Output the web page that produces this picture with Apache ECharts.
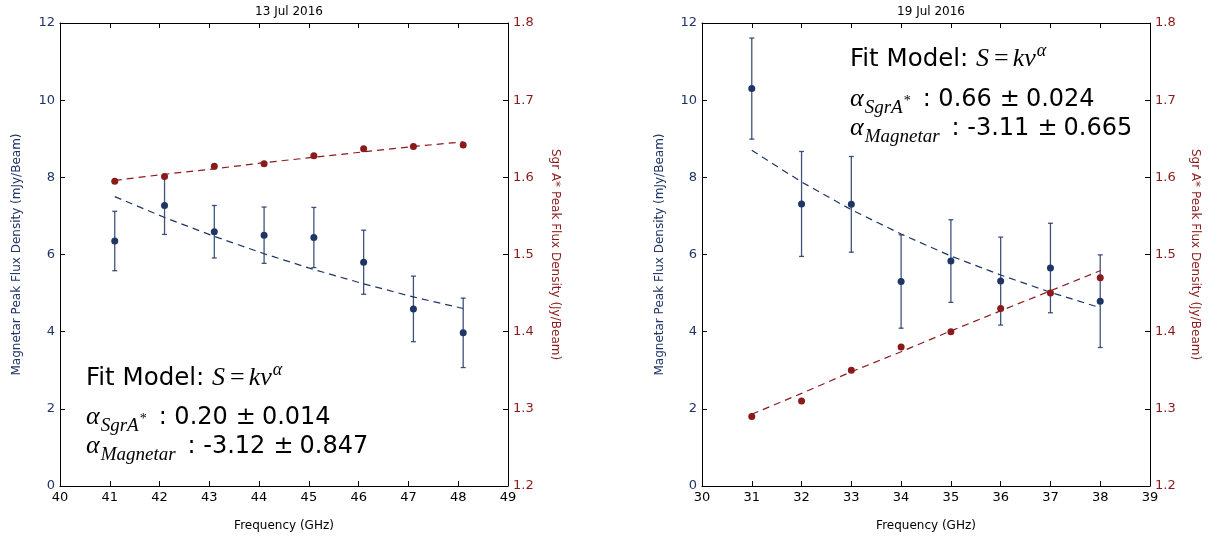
<!DOCTYPE html>
<html>
<head>
<meta charset="utf-8">
<script src="https://cdn.jsdelivr.net/npm/echarts@6/dist/echarts.min.js"></script>
<style>
  html, body { margin: 0; padding: 0; background: #fff; }
  #chart { width: 1217px; height: 545px; }
</style>
</head>
<body>
<div id="chart"></div>
<script>
// 13 Jul 2016
const freqL = [41.1, 42.1, 43.1, 44.1, 45.1, 46.1, 47.1, 48.1];
const magL = [6.35, 7.27, 6.59, 6.50, 6.44, 5.80, 4.59, 3.97];
const magErrL = [0.77, 0.75, 0.68, 0.73, 0.78, 0.83, 0.85, 0.90];
const magFitL = [7.50, 6.96, 6.47, 6.02, 5.61, 5.24, 4.90, 4.60];
const sgrL = [1.595, 1.601, 1.6145, 1.6175, 1.628, 1.637, 1.640, 1.642];
const sgrFitL = [1.596, 1.604, 1.611, 1.619, 1.626, 1.633, 1.640, 1.646];

// 19 Jul 2016
const freqR = [31, 32, 33, 34, 35, 36, 37, 38];
const magR = [10.30, 7.31, 7.30, 5.30, 5.83, 5.31, 5.65, 4.79];
const magErrR = [1.31, 1.36, 1.24, 1.21, 1.07, 1.14, 1.16, 1.20];
const magFitR = [8.70, 7.88, 7.16, 6.53, 5.96, 5.47, 5.02, 4.62];
const sgrR = [1.29, 1.31, 1.35, 1.38, 1.40, 1.43, 1.45, 1.47];
const sgrFitR = [1.293, 1.320, 1.348, 1.374, 1.401, 1.427, 1.453, 1.479];

const titles = ['13 Jul 2016', '19 Jul 2016'];
const fitText = [
  { sgr: '0.20', sgrErr: '0.014', mag: '-3.12', magErr: '0.847' },
  { sgr: '0.66', sgrErr: '0.024', mag: '-3.11', magErr: '0.665' }
];

const BLUE = '#1f3566';
const RED = '#8b1a1a';
const SANS = 'DejaVu Sans';
const SERIF = 'Liberation Serif';

const chart = echarts.init(document.getElementById('chart'));

const zip = (xs, ys) => xs.map((x, i) => [x, ys[i]]);
const errData = (xs, ys, es) => xs.map((x, i) => [x, ys[i] - es[i], ys[i] + es[i]]);

function errorBars(params, api) {
  const x = api.value(0);
  const top = api.coord([x, api.value(2)]);
  const bot = api.coord([x, api.value(1)]);
  const c = 2.5;
  const style = { stroke: BLUE, lineWidth: 1.3, opacity: 0.85 };
  return {
    type: 'group',
    children: [
      { type: 'line', shape: { x1: top[0], y1: top[1], x2: bot[0], y2: bot[1] }, style },
      { type: 'line', shape: { x1: top[0] - c, y1: top[1], x2: top[0] + c, y2: top[1] }, style },
      { type: 'line', shape: { x1: bot[0] - c, y1: bot[1], x2: bot[0] + c, y2: bot[1] }, style }
    ]
  };
}

const grids = [
  { left: 60, top: 23, width: 448, height: 463 },
  { left: 702, top: 23, width: 448, height: 463 }
];
const ranges = [[40, 49], [30, 39]];
const leftGap = [37, 36];
const rightGap = [41, 39];

const xAxis = [];
const yAxis = [];
grids.forEach((g, i) => {
  const base = {
    type: 'value', gridIndex: i, min: ranges[i][0], max: ranges[i][1], interval: 1,
    splitLine: { show: false },
    axisLine: { lineStyle: { color: '#000', width: 1 } },
    axisTick: { inside: true, length: 5, lineStyle: { color: '#000' } }
  };
  xAxis.push(Object.assign({}, base, {
    position: 'bottom',
    name: 'Frequency (GHz)', nameLocation: 'middle', nameGap: 34,
    nameTextStyle: { fontFamily: SANS, fontSize: 12, color: '#000' },
    axisLabel: { fontFamily: SANS, fontSize: 13, color: '#000', margin: 5 }
  }));
  xAxis.push(Object.assign({}, base, {
    position: 'top', axisLabel: { show: false }
  }));
  yAxis.push({
    type: 'value', gridIndex: i, min: 0, max: 12, interval: 2, position: 'left',
    splitLine: { show: false },
    axisLine: { lineStyle: { color: '#000' } },
    axisTick: { inside: true, length: 5, lineStyle: { color: '#000' } },
    axisLabel: { fontFamily: SANS, fontSize: 13, color: BLUE, margin: 5 },
    name: 'Magnetar Peak Flux Density (mJy/Beam)', nameLocation: 'middle', nameGap: leftGap[i],
    nameTextStyle: { fontFamily: SANS, fontSize: 12, color: BLUE }
  });
  yAxis.push({
    type: 'value', gridIndex: i, min: 1.2, max: 1.8, interval: 0.1, position: 'right',
    splitLine: { show: false },
    axisLine: { lineStyle: { color: '#000' } },
    axisTick: { inside: true, length: 5, lineStyle: { color: '#000' } },
    axisLabel: { fontFamily: SANS, fontSize: 13, color: RED, margin: 5, formatter: v => v.toFixed(1) },
    name: 'Sgr A* Peak Flux Density (Jy/Beam)', nameLocation: 'middle', nameGap: rightGap[i], nameRotate: -90,
    nameTextStyle: { fontFamily: SANS, fontSize: 12, color: RED }
  });
});

const panels = [
  { f: freqL, mag: magL, err: magErrL, magFit: magFitL, sgr: sgrL, sgrFit: sgrFitL },
  { f: freqR, mag: magR, err: magErrR, magFit: magFitR, sgr: sgrR, sgrFit: sgrFitR }
];

const series = [];
panels.forEach((p, i) => {
  const xi = i * 2, yl = i * 2, yr = i * 2 + 1;
  series.push({
    type: 'line', xAxisIndex: xi, yAxisIndex: yl, data: zip(p.f, p.magFit),
    showSymbol: false, lineStyle: { color: BLUE, width: 1.2, type: [7, 5] }, z: 2
  });
  series.push({
    type: 'custom', xAxisIndex: xi, yAxisIndex: yl, data: errData(p.f, p.mag, p.err),
    renderItem: errorBars, encode: { x: 0, y: [1, 2] }, z: 3
  });
  series.push({
    type: 'scatter', xAxisIndex: xi, yAxisIndex: yl, data: zip(p.f, p.mag),
    symbolSize: 7, itemStyle: { color: BLUE, opacity: 1 }, z: 4
  });
  series.push({
    type: 'line', xAxisIndex: xi, yAxisIndex: yr, data: zip(p.f, p.sgrFit),
    showSymbol: false, lineStyle: { color: RED, width: 1.2, type: [7, 5] }, z: 5
  });
  series.push({
    type: 'scatter', xAxisIndex: xi, yAxisIndex: yr, data: zip(p.f, p.sgr),
    symbolSize: 7, itemStyle: { color: RED, opacity: 1 }, z: 6
  });
});

// annotation text: pieces laid out left to right on a shared baseline
const measure = document.createElement('canvas').getContext('2d');
function textLine(x, baseline, pieces) {
  const out = [];
  let cx = x;
  pieces.forEach(p => {
    const font = (p.italic ? 'italic ' : '') + p.size + 'px "' + p.family + '"';
    measure.font = font;
    cx += p.before || 0;
    out.push({
      type: 'text', z: 100,
      style: {
        text: p.text, x: cx, y: baseline + (p.dy || 0) - p.size * 0.33,
        fontFamily: p.family, fontSize: p.size, fontStyle: p.italic ? 'italic' : 'normal',
        fill: '#000', verticalAlign: 'middle', align: 'left'
      }
    });
    cx += measure.measureText(p.text).width + (p.after || 0);
  });
  return out;
}

const annoPos = [
  { x: 86, y: [387, 426, 455] },
  { x: 850, y: [68, 108, 137] }
];
const graphic = [];
annoPos.forEach((a, i) => {
  const t = fitText[i];
  graphic.push(...textLine(a.x, a.y[0], [
    { text: 'Fit Model: ', family: SANS, size: 24.5 },
    { text: 'S', family: SERIF, size: 26, italic: true, after: 5 },
    { text: '=', family: SERIF, size: 26, after: 4 },
    { text: 'kν', family: SERIF, size: 26, italic: true, after: 1 },
    { text: 'α', family: SERIF, size: 18, italic: true, dy: -11 }
  ]));
  graphic.push(...textLine(a.x, a.y[1], [
    { text: 'α', family: SERIF, size: 26, italic: true, after: 1 },
    { text: 'SgrA', family: SERIF, size: 19, italic: true, dy: 6, after: 1 },
    { text: '*', family: SERIF, size: 14, dy: -2, after: 6 },
    { text: ': ' + t.sgr, family: SANS, size: 24, before: 6 },
    { text: '±', family: SANS, size: 24, before: 8, after: 6 },
    { text: t.sgrErr, family: SANS, size: 24 }
  ]));
  graphic.push(...textLine(a.x, a.y[2], [
    { text: 'α', family: SERIF, size: 26, italic: true, after: 1 },
    { text: 'Magnetar', family: SERIF, size: 19, italic: true, dy: 6, after: 6 },
    { text: ': ' + t.mag, family: SANS, size: 24, before: 6 },
    { text: '±', family: SANS, size: 24, before: 8, after: 6 },
    { text: t.magErr, family: SANS, size: 24 }
  ]));
});

chart.setOption({
  animation: false,
  backgroundColor: '#fff',
  textStyle: { fontFamily: SANS },
  title: titles.map((t, i) => ({
    text: t, left: grids[i].left + grids[i].width / 2, top: 1, textAlign: 'center',
    textStyle: { fontFamily: SANS, fontSize: 12, fontWeight: 'normal', color: '#000' }
  })),
  grid: grids,
  xAxis,
  yAxis,
  series,
  graphic
});
</script>
</body>
</html>
